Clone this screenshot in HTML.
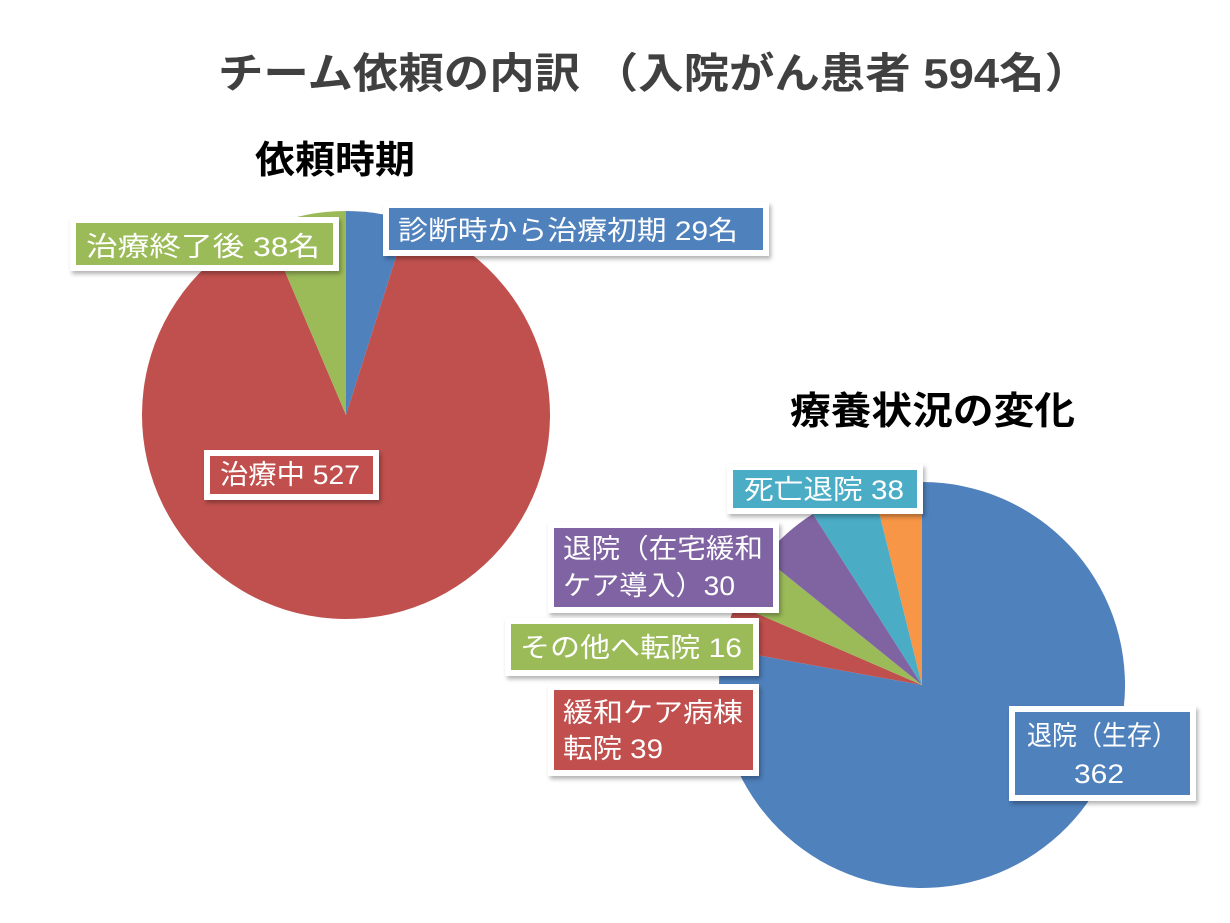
<!DOCTYPE html>
<html><head><meta charset="utf-8"><style>
html,body{margin:0;padding:0;background:#fff;}
svg{display:block;font-family:"Liberation Sans","Noto Sans CJK JP",sans-serif;}
</style></head><body>
<svg id="c" width="1230" height="923" viewBox="0 0 1230 923">
<defs><filter id="sh" x="-10%" y="-10%" width="130%" height="140%"><feDropShadow dx="2" dy="3" stdDeviation="2" flood-color="#000" flood-opacity="0.3"/></filter></defs>
<text x="218" y="88" font-size="42" font-weight="bold" fill="#404040" textLength="872" lengthAdjust="spacingAndGlyphs">チーム依頼の内訳 （入院がん患者 594名）</text>
<text x="255" y="173" font-size="38" font-weight="bold" fill="#000" textLength="160" lengthAdjust="spacingAndGlyphs">依頼時期</text>
<text x="790" y="424" font-size="38" font-weight="bold" fill="#000" textLength="285" lengthAdjust="spacingAndGlyphs">療養状況の変化</text>
<g id="p1"></g><g id="p2"></g><g id="labels"></g>
</svg>
<script>
// Pie 1: 依頼時期
const p1Cats = ["診断時から治療初期", "治療中", "治療終了後"];
const p1Values = [29, 527, 38];
// Pie 2: 療養状況の変化 (slice sizes as drawn)
const p2Cats = ["退院（生存）", "緩和ケア病棟転院", "その他へ転院", "退院（在宅緩和ケア導入）", "死亡退院", "その他"];
const p2Values = [362, 17, 20, 24, 24, 18];
const p2Printed = [362, 39, 16, 30, 38];
const colors1 = ["#4f81bd", "#c0504d", "#9bbb59"];
const colors2 = ["#4f81bd", "#c0504d", "#9bbb59", "#8064a2", "#4bacc6", "#f79646"];
const NS = "http://www.w3.org/2000/svg";
function drawPie(g, cx, cy, r, vals, cols, names) {
  const tot = vals.reduce((a, b) => a + b, 0);
  let a0 = 0;
  vals.forEach((v, i) => {
    const a1 = a0 + v / tot * Math.PI * 2;
    const x0 = cx + r * Math.sin(a0), y0 = cy - r * Math.cos(a0);
    const x1 = cx + r * Math.sin(a1), y1 = cy - r * Math.cos(a1);
    const p = document.createElementNS(NS, "path");
    p.setAttribute("d", `M${cx},${cy}L${x0},${y0}A${r},${r} 0 ${a1 - a0 > Math.PI ? 1 : 0} 1 ${x1},${y1}Z`);
    p.setAttribute("fill", cols[i]);
    
    
    g.appendChild(p);
    a0 = a1;
  });
}
drawPie(document.getElementById("p1"), 346, 415, 204, p1Values, colors1,
  ["slice-early", "slice-during-treatment", "slice-after-treatment"]);
drawPie(document.getElementById("p2"), 922, 685, 203, p2Values, colors2,
  ["slice-discharged-alive", "slice-palliative-ward", "slice-other-hospital", "slice-home-palliative", "slice-death", "slice-other"]);
// labels: [x,y,w,h,color,lines,name]
const L = document.getElementById("labels");
const boxes = [
  [386,205,380,48,colors1[0],[["診断時から治療初期 " + p1Values[0] + "名",398,240,340]],"label-early"],
  [73,220,263,48,colors1[2],[["治療終了後  " + p1Values[2] + "名",86,256,234]],"label-after-treatment"],
  [207,453,169,44,colors1[1],[["治療中 " + p1Values[1],220,484,140]],"label-during-treatment"],
  [730,467,190,44,colors2[4],[["死亡退院 " + p2Printed[4],744,499,160]],"label-death"],
  [551,525,225,85,colors2[3],[["退院（在宅緩和",563,558,200],["ケア導入）" + p2Printed[3],563,595,172]],"label-home-palliative"],
  [508,621,248,52,colors2[2],[["その他へ転院 " + p2Printed[2],520,657,222]],"label-other-hospital"],
  [551,687,205,86,colors2[1],[["緩和ケア病棟",563,722,180],["転院 " + p2Printed[1],563,758,100]],"label-palliative-ward"],
  [1012,709,181,89,colors2[0],[["退院（生存）",1027,745,150],[String(p2Values[0]),1074,783,50]],"label-discharged-alive"]
];
boxes.forEach(b => {
  const g = document.createElementNS(NS, "g");
  
  
  const r = document.createElementNS(NS, "rect");
  r.setAttribute("x", b[0]); r.setAttribute("y", b[1]);
  r.setAttribute("width", b[2]); r.setAttribute("height", b[3]);
  r.setAttribute("fill", b[4]); r.setAttribute("stroke", "#fff");
  r.setAttribute("stroke-width", "6"); r.setAttribute("filter", "url(#sh)");
  g.appendChild(r);
  b[5].forEach(l => {
    const t = document.createElementNS(NS, "text");
    t.setAttribute("x", l[1]); t.setAttribute("y", l[2]);
    t.setAttribute("font-size", "27"); t.setAttribute("fill", "#fff");
    t.setAttribute("textLength", l[3]); t.setAttribute("lengthAdjust", "spacingAndGlyphs");
    t.textContent = l[0];
    g.appendChild(t);
  });
  L.appendChild(g);
});
</script>
</body></html>
